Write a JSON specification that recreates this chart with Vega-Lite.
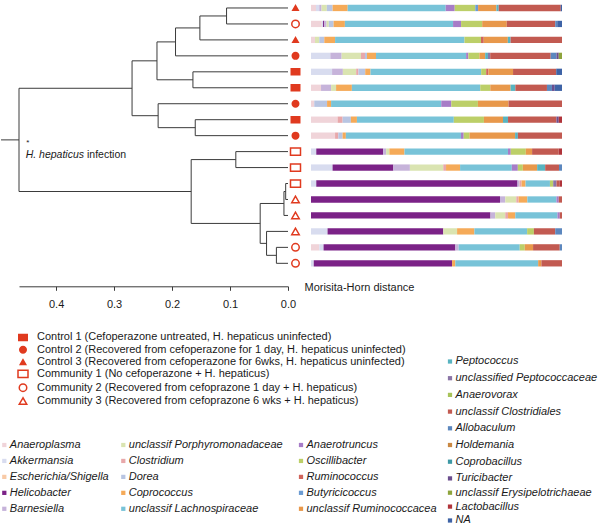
{
  "$schema": "https://vega.github.io/schema/vega-lite/v6.json",
  "padding": 0,
  "background": "white",
  "bounds": "flush",
  "spacing": 5,
  "config": {"view": {"stroke": null}, "font": "Liberation Sans"},
  "datasets": {
    "tree": [
      {"node":"1","h":0,"y":1,"ph":0.106},
      {"node":"2","h":0,"y":2,"ph":0.106},
      {"node":"3","h":0,"y":3,"ph":0.152},
      {"node":"4","h":0,"y":4,"ph":0.194},
      {"node":"5","h":0,"y":5,"ph":0.164},
      {"node":"6","h":0,"y":6,"ph":0.164},
      {"node":"7","h":0,"y":7,"ph":0.224},
      {"node":"8","h":0,"y":8,"ph":0.160},
      {"node":"9","h":0,"y":9,"ph":0.160},
      {"node":"10","h":0,"y":10,"ph":0.090},
      {"node":"11","h":0,"y":11,"ph":0.090},
      {"node":"12","h":0,"y":12,"ph":0.004},
      {"node":"13","h":0,"y":13,"ph":0.004},
      {"node":"14","h":0,"y":14,"ph":0.007},
      {"node":"15","h":0,"y":15,"ph":0.037},
      {"node":"16","h":0,"y":16,"ph":0.020},
      {"node":"17","h":0,"y":17,"ph":0.020},
      {"node":"A","h":0.106,"y":1.5,"ph":0.152,"lo":1,"hi":2},
      {"node":"B","h":0.152,"y":2.25,"ph":0.194,"lo":1.5,"hi":3},
      {"node":"C","h":0.194,"y":3.125,"ph":0.226,"lo":2.25,"hi":4},
      {"node":"D","h":0.164,"y":5.5,"ph":0.226,"lo":5,"hi":6},
      {"node":"E","h":0.226,"y":4.3125,"ph":0.269,"lo":3.125,"hi":5.5},
      {"node":"F","h":0.160,"y":8.5,"ph":0.224,"lo":8,"hi":9},
      {"node":"G","h":0.224,"y":7.75,"ph":0.269,"lo":7,"hi":8.5},
      {"node":"H","h":0.269,"y":6.03125,"ph":0.464,"lo":4.3125,"hi":7.75},
      {"node":"I","h":0.090,"y":10.5,"ph":0.167,"lo":10,"hi":11},
      {"node":"J","h":0.004,"y":12.5,"ph":0.007,"lo":12,"hi":13},
      {"node":"K","h":0.007,"y":13.25,"ph":0.048,"lo":12.5,"hi":14},
      {"node":"L","h":0.020,"y":16.5,"ph":0.037,"lo":16,"hi":17},
      {"node":"M","h":0.037,"y":15.75,"ph":0.048,"lo":15,"hi":16.5},
      {"node":"N","h":0.048,"y":14.5,"ph":0.167,"lo":13.25,"hi":15.75},
      {"node":"O","h":0.167,"y":12.5,"ph":0.464,"lo":10.5,"hi":14.5},
      {"node":"R","h":0.464,"y":9.265625,"ph":0.495,"lo":6.03125,"hi":12.5}
    ],
    "samples": [
      {"leaf":1,"group":"Control 3 (Recovered from cefoperazone for 6wks, H. hepaticus uninfected)"},
      {"leaf":2,"group":"Community 2 (Recovered from cefoprazone 1 day + H. hepaticus)"},
      {"leaf":3,"group":"Control 3 (Recovered from cefoperazone for 6wks, H. hepaticus uninfected)"},
      {"leaf":4,"group":"Control 2 (Recovered from cefoperazone for 1 day, H. hepaticus uninfected)"},
      {"leaf":5,"group":"Control 1 (Cefoperazone untreated, H. hepaticus uninfected)"},
      {"leaf":6,"group":"Control 1 (Cefoperazone untreated, H. hepaticus uninfected)"},
      {"leaf":7,"group":"Control 2 (Recovered from cefoperazone for 1 day, H. hepaticus uninfected)"},
      {"leaf":8,"group":"Control 1 (Cefoperazone untreated, H. hepaticus uninfected)"},
      {"leaf":9,"group":"Control 2 (Recovered from cefoperazone for 1 day, H. hepaticus uninfected)"},
      {"leaf":10,"group":"Community 1 (No cefoperazone + H. hepaticus)"},
      {"leaf":11,"group":"Community 1 (No cefoperazone + H. hepaticus)"},
      {"leaf":12,"group":"Community 1 (No cefoperazone + H. hepaticus)"},
      {"leaf":13,"group":"Community 3 (Recovered from cefoprazone 6 wks + H. hepaticus)"},
      {"leaf":14,"group":"Community 3 (Recovered from cefoprazone 6 wks + H. hepaticus)"},
      {"leaf":15,"group":"Community 3 (Recovered from cefoprazone 6 wks + H. hepaticus)"},
      {"leaf":16,"group":"Community 2 (Recovered from cefoprazone 1 day + H. hepaticus)"},
      {"leaf":17,"group":"Community 2 (Recovered from cefoprazone 1 day + H. hepaticus)"}
    ],
    "abund": [
      {"s":1,"t":"Anaeroplasma","v":2.0},{"s":1,"t":"Akkermansia","v":1.3},{"s":1,"t":"Barnesiella","v":0.9},{"s":1,"t":"unclassif Porphyromonadaceae","v":2.1},{"s":1,"t":"Dorea","v":2.3},{"s":1,"t":"Coprococcus","v":6.0},{"s":1,"t":"unclassif Lachnospiraceae","v":39.0},{"s":1,"t":"Anaerotruncus","v":3.6},{"s":1,"t":"Oscillibacter","v":8.2},{"s":1,"t":"Butyricicoccus","v":1.1},{"s":1,"t":"unclassif Ruminococcacea","v":7.3},{"s":1,"t":"Peptococcus","v":0.9},{"s":1,"t":"unclassif Clostridiales","v":24.7},{"s":1,"t":"NA","v":0.5},
      {"s":2,"t":"Anaeroplasma","v":4.3},{"s":2,"t":"Akkermansia","v":0.5},{"s":2,"t":"Helicobacter","v":0.5},{"s":2,"t":"Barnesiella","v":0.9},{"s":2,"t":"unclassif Porphyromonadaceae","v":0.9},{"s":2,"t":"Dorea","v":1.9},{"s":2,"t":"Coprococcus","v":4.5},{"s":2,"t":"unclassif Lachnospiraceae","v":43.1},{"s":2,"t":"Anaerotruncus","v":3.2},{"s":2,"t":"Oscillibacter","v":8.4},{"s":2,"t":"unclassif Ruminococcacea","v":9.8},{"s":2,"t":"unclassif Clostridiales","v":19.3},{"s":2,"t":"Allobaculum","v":0.8},{"s":2,"t":"NA","v":1.9},
      {"s":3,"t":"Anaeroplasma","v":1.6},{"s":3,"t":"unclassif Porphyromonadaceae","v":1.7},{"s":3,"t":"Dorea","v":2.0},{"s":3,"t":"Coprococcus","v":4.3},{"s":3,"t":"unclassif Lachnospiraceae","v":51.6},{"s":3,"t":"Oscillibacter","v":6.6},{"s":3,"t":"Ruminococcus","v":1.1},{"s":3,"t":"unclassif Ruminococcacea","v":9.6},{"s":3,"t":"Peptococcus","v":1.1},{"s":3,"t":"unclassif Clostridiales","v":20.5},
      {"s":4,"t":"Akkermansia","v":7.7},{"s":4,"t":"Barnesiella","v":4.5},{"s":4,"t":"unclassif Porphyromonadaceae","v":7.7},{"s":4,"t":"Clostridium","v":1.6},{"s":4,"t":"Dorea","v":0.8},{"s":4,"t":"Coprococcus","v":3.6},{"s":4,"t":"unclassif Lachnospiraceae","v":35.9},{"s":4,"t":"Anaerotruncus","v":0.9},{"s":4,"t":"Oscillibacter","v":4.4},{"s":4,"t":"unclassif Ruminococcacea","v":2.3},{"s":4,"t":"Peptococcus","v":1.1},{"s":4,"t":"unclassified Peptococcaceae","v":0.9},{"s":4,"t":"unclassif Clostridiales","v":24.1},{"s":4,"t":"Allobaculum","v":2.3},{"s":4,"t":"Turicibacter","v":0.9},{"s":4,"t":"unclassif Erysipelotrichaeae","v":1.3},
      {"s":5,"t":"Akkermansia","v":8.4},{"s":5,"t":"Barnesiella","v":4.3},{"s":5,"t":"unclassif Porphyromonadaceae","v":5.3},{"s":5,"t":"Clostridium","v":0.9},{"s":5,"t":"Dorea","v":2.7},{"s":5,"t":"Coprococcus","v":2.1},{"s":5,"t":"unclassif Lachnospiraceae","v":44.1},{"s":5,"t":"Oscillibacter","v":2.0},{"s":5,"t":"Ruminococcus","v":0.9},{"s":5,"t":"unclassif Ruminococcacea","v":9.8},{"s":5,"t":"unclassif Clostridiales","v":17.2},{"s":5,"t":"NA","v":2.3},
      {"s":6,"t":"Anaeroplasma","v":4.0},{"s":6,"t":"Barnesiella","v":4.0},{"s":6,"t":"unclassif Porphyromonadaceae","v":2.0},{"s":6,"t":"Coprococcus","v":6.3},{"s":6,"t":"unclassif Lachnospiraceae","v":51.2},{"s":6,"t":"Oscillibacter","v":4.0},{"s":6,"t":"unclassif Ruminococcacea","v":8.1},{"s":6,"t":"Peptococcus","v":1.9},{"s":6,"t":"unclassif Clostridiales","v":12.6},{"s":6,"t":"Allobaculum","v":2.0},{"s":6,"t":"Turicibacter","v":1.1},{"s":6,"t":"NA","v":2.9},
      {"s":7,"t":"Anaeroplasma","v":1.3},{"s":7,"t":"Dorea","v":5.1},{"s":7,"t":"Coprococcus","v":1.6},{"s":7,"t":"unclassif Lachnospiraceae","v":43.9},{"s":7,"t":"Anaerotruncus","v":4.0},{"s":7,"t":"Oscillibacter","v":10.6},{"s":7,"t":"unclassif Ruminococcacea","v":12.2},{"s":7,"t":"unclassif Clostridiales","v":21.3},
      {"s":8,"t":"Anaeroplasma","v":10.6},{"s":8,"t":"Clostridium","v":2.0},{"s":8,"t":"Dorea","v":3.3},{"s":8,"t":"Coprococcus","v":2.4},{"s":8,"t":"unclassif Lachnospiraceae","v":38.6},{"s":8,"t":"Oscillibacter","v":12.0},{"s":8,"t":"unclassif Ruminococcacea","v":7.6},{"s":8,"t":"Peptococcus","v":2.0},{"s":8,"t":"unclassif Clostridiales","v":19.3},{"s":8,"t":"Turicibacter","v":0.9},{"s":8,"t":"Lactobacillus","v":1.3},
      {"s":9,"t":"Anaeroplasma","v":9.6},{"s":9,"t":"Clostridium","v":1.3},{"s":9,"t":"Dorea","v":1.7},{"s":9,"t":"Coprococcus","v":1.3},{"s":9,"t":"unclassif Lachnospiraceae","v":45.9},{"s":9,"t":"Anaerotruncus","v":1.1},{"s":9,"t":"Oscillibacter","v":2.3},{"s":9,"t":"unclassif Ruminococcacea","v":18.2},{"s":9,"t":"Peptococcus","v":1.1},{"s":9,"t":"unclassif Clostridiales","v":17.6},
      {"s":10,"t":"Akkermansia","v":2.1},{"s":10,"t":"Helicobacter","v":26.6},{"s":10,"t":"Barnesiella","v":1.2},{"s":10,"t":"unclassif Porphyromonadaceae","v":1.3},{"s":10,"t":"Coprococcus","v":6.0},{"s":10,"t":"unclassif Lachnospiraceae","v":41.2},{"s":10,"t":"Anaerotruncus","v":1.1},{"s":10,"t":"Oscillibacter","v":6.0},{"s":10,"t":"unclassif Ruminococcacea","v":2.5},{"s":10,"t":"unclassif Clostridiales","v":10.6},{"s":10,"t":"Lactobacillus","v":1.3},
      {"s":11,"t":"Akkermansia","v":8.6},{"s":11,"t":"Helicobacter","v":24.2},{"s":11,"t":"Barnesiella","v":6.6},{"s":11,"t":"unclassif Porphyromonadaceae","v":13.3},{"s":11,"t":"Clostridium","v":1.1},{"s":11,"t":"Coprococcus","v":5.6},{"s":11,"t":"unclassif Lachnospiraceae","v":20.6},{"s":11,"t":"Anaerotruncus","v":2.4},{"s":11,"t":"Oscillibacter","v":2.0},{"s":11,"t":"unclassif Ruminococcacea","v":5.7},{"s":11,"t":"Peptococcus","v":3.2},{"s":11,"t":"unclassif Clostridiales","v":5.5},{"s":11,"t":"Allobaculum","v":1.2},
      {"s":12,"t":"Akkermansia","v":2.1},{"s":12,"t":"Helicobacter","v":80.1},{"s":12,"t":"Barnesiella","v":0.8},{"s":12,"t":"Clostridium","v":0.8},{"s":12,"t":"Coprococcus","v":1.6},{"s":12,"t":"unclassif Lachnospiraceae","v":9.7},{"s":12,"t":"Oscillibacter","v":1.3},{"s":12,"t":"unclassified Peptococcaceae","v":1.3},{"s":12,"t":"unclassif Clostridiales","v":1.3},{"s":12,"t":"Lactobacillus","v":0.9},
      {"s":13,"t":"Helicobacter","v":75.3},{"s":13,"t":"Barnesiella","v":2.1},{"s":13,"t":"unclassif Porphyromonadaceae","v":4.4},{"s":13,"t":"Clostridium","v":0.9},{"s":13,"t":"Coprococcus","v":3.5},{"s":13,"t":"unclassif Lachnospiraceae","v":11.6},{"s":13,"t":"Anaerotruncus","v":0.9},{"s":13,"t":"unclassif Clostridiales","v":1.3},
      {"s":14,"t":"Helicobacter","v":71.5},{"s":14,"t":"Barnesiella","v":1.9},{"s":14,"t":"unclassif Porphyromonadaceae","v":4.0},{"s":14,"t":"Clostridium","v":1.1},{"s":14,"t":"Coprococcus","v":2.9},{"s":14,"t":"unclassif Lachnospiraceae","v":16.8},{"s":14,"t":"Anaerotruncus","v":0.9},{"s":14,"t":"unclassif Clostridiales","v":0.9},
      {"s":15,"t":"Akkermansia","v":6.6},{"s":15,"t":"Helicobacter","v":46.1},{"s":15,"t":"unclassif Porphyromonadaceae","v":5.5},{"s":15,"t":"Coprococcus","v":6.9},{"s":15,"t":"unclassif Lachnospiraceae","v":21.0},{"s":15,"t":"Oscillibacter","v":2.7},{"s":15,"t":"unclassif Clostridiales","v":8.5},{"s":15,"t":"Allobaculum","v":2.7},
      {"s":16,"t":"Anaeroplasma","v":3.3},{"s":16,"t":"Akkermansia","v":1.7},{"s":16,"t":"Helicobacter","v":52.4},{"s":16,"t":"Barnesiella","v":1.3},{"s":16,"t":"unclassif Lachnospiraceae","v":24.3},{"s":16,"t":"Oscillibacter","v":2.0},{"s":16,"t":"unclassif Ruminococcacea","v":3.3},{"s":16,"t":"unclassif Clostridiales","v":10.6},{"s":16,"t":"Allobaculum","v":0.9},
      {"s":17,"t":"Akkermansia","v":1.1},{"s":17,"t":"Helicobacter","v":55.1},{"s":17,"t":"Coprococcus","v":1.3},{"s":17,"t":"unclassif Lachnospiraceae","v":33.0},{"s":17,"t":"unclassif Ruminococcacea","v":1.3},{"s":17,"t":"unclassif Clostridiales","v":8.2}
    ]
  },
  "hconcat": [
    {
      "width": 269,
      "height": 271.3,
      "data": {"name": "tree"},
      "layer": [
        {
          "mark": {"type": "rule", "color": "#3a3a3a", "strokeWidth": 1},
          "encoding": {
            "x": {"field": "h", "type": "quantitative",
              "scale": {"domain": [0.464, 0], "nice": false, "zero": false},
              "axis": {"orient": "bottom", "offset": 15, "values": [0.4, 0.3, 0.2, 0.1, 0], "format": ".1f", "grid": false,
                "domainColor": "#3a3a3a", "tickColor": "#3a3a3a", "tickSize": 4, "labelFontSize": 11, "labelColor": "#1a1a1a",
                "labelPadding": 8, "labelDx": 3, "labelFlush": false,
                "title": "Morisita-Horn distance", "titleX": 285, "titleY": 1, "titleAlign": "left", "titleAnchor": "start",
                "titleBaseline": "middle", "titleFontWeight": "normal", "titleFontSize": 11, "titleColor": "#1a1a1a"}},
            "x2": {"field": "ph"},
            "y": {"field": "y", "type": "quantitative", "scale": {"domain": [0.5, 17.5], "reverse": true, "nice": false, "zero": false}, "axis": null}
          }
        },
        {
          "transform": [{"filter": "isValid(datum.lo)"}],
          "mark": {"type": "rule", "color": "#3a3a3a", "strokeWidth": 1},
          "encoding": {
            "x": {"field": "h", "type": "quantitative"},
            "y": {"field": "lo", "type": "quantitative"},
            "y2": {"field": "hi"}
          }
        },
        {
          "transform": [{"filter": "datum.node == 'R'"}],
          "mark": {"type": "text", "text": "*", "fontSize": 8, "align": "center", "baseline": "middle", "dx": 8.7, "dy": 3, "color": "#1a1a1a"},
          "encoding": {"x": {"field": "h", "type": "quantitative"}, "y": {"field": "y", "type": "quantitative"}}
        },
        {
          "transform": [{"filter": "datum.node == 'R'"}],
          "mark": {"type": "text", "text": "H. hepaticus", "fontStyle": "italic", "fontSize": 10.5, "align": "left", "baseline": "middle", "dx": 6.7, "dy": 15, "color": "#1a1a1a"},
          "encoding": {"x": {"field": "h", "type": "quantitative"}, "y": {"field": "y", "type": "quantitative"}}
        },
        {
          "transform": [{"filter": "datum.node == 'R'"}],
          "mark": {"type": "text", "text": "infection", "fontSize": 10.5, "align": "left", "baseline": "middle", "dx": 68, "dy": 15, "color": "#1a1a1a"},
          "encoding": {"x": {"field": "h", "type": "quantitative"}, "y": {"field": "y", "type": "quantitative"}}
        }
      ]
    },
    {
      "width": 13,
      "height": 271.3,
      "data": {"name": "samples"},
      "mark": {"type": "point", "filled": true, "opacity": 1, "stroke": "#e03a1f", "strokeWidth": 1.5, "xOffset": -4},
      "encoding": {
        "y": {"field": "leaf", "type": "quantitative", "scale": {"domain": [0.5, 17.5], "reverse": true, "nice": false, "zero": false}, "axis": null},
        "shape": {"field": "group", "type": "nominal",
          "scale": {"domain": [
            "Control 1 (Cefoperazone untreated, H. hepaticus uninfected)",
            "Control 2 (Recovered from cefoperazone for 1 day, H. hepaticus uninfected)",
            "Control 3 (Recovered from cefoperazone for 6wks, H. hepaticus uninfected)",
            "Community 1 (No cefoperazone + H. hepaticus)",
            "Community 2 (Recovered from cefoprazone 1 day + H. hepaticus)",
            "Community 3 (Recovered from cefoprazone 6 wks + H. hepaticus)"],
            "range": ["M-1,-0.72H1V0.72H-1Z", "circle", "triangle-up", "M-1,-0.72H1V0.72H-1Z", "circle", "triangle-up"]},
          "legend": {"orient": "none", "legendX": -2, "legendY": 332, "title": null, "labelFontSize": 11, "labelColor": "#1a1a1a",
            "labelOffset": 8, "rowPadding": -0.7, "padding": 0, "labelLimit": 0,
            "encode": {"symbols": {"update": {"stroke": {"value": "#e03a1f"}, "strokeWidth": {"value": 1.5}}}}}},
        "fill": {"field": "group", "type": "nominal",
          "scale": {"domain": [
            "Control 1 (Cefoperazone untreated, H. hepaticus uninfected)",
            "Control 2 (Recovered from cefoperazone for 1 day, H. hepaticus uninfected)",
            "Control 3 (Recovered from cefoperazone for 6wks, H. hepaticus uninfected)",
            "Community 1 (No cefoperazone + H. hepaticus)",
            "Community 2 (Recovered from cefoprazone 1 day + H. hepaticus)",
            "Community 3 (Recovered from cefoprazone 6 wks + H. hepaticus)"],
            "range": ["#e03a1f", "#e03a1f", "#e03a1f", "transparent", "transparent", "transparent"]},
          "legend": {"orient": "none", "legendX": -2, "legendY": 332, "title": null, "labelFontSize": 11, "labelColor": "#1a1a1a",
            "labelOffset": 8, "rowPadding": -0.7, "padding": 0, "labelLimit": 0,
            "encode": {"symbols": {"update": {"stroke": {"value": "#e03a1f"}, "strokeWidth": {"value": 1.5}}}}}},
        "size": {"field": "group", "type": "nominal",
          "scale": {"type": "ordinal", "domain": [
            "Control 1 (Cefoperazone untreated, H. hepaticus uninfected)",
            "Control 2 (Recovered from cefoperazone for 1 day, H. hepaticus uninfected)",
            "Control 3 (Recovered from cefoperazone for 6wks, H. hepaticus uninfected)",
            "Community 1 (No cefoperazone + H. hepaticus)",
            "Community 2 (Recovered from cefoprazone 1 day + H. hepaticus)",
            "Community 3 (Recovered from cefoprazone 6 wks + H. hepaticus)"],
            "range": [72, 42, 30, 100, 56, 56]},
          "legend": {"orient": "none", "legendX": -2, "legendY": 332, "title": null, "labelFontSize": 11, "labelColor": "#1a1a1a",
            "labelOffset": 8, "rowPadding": -0.7, "padding": 0, "labelLimit": 0,
            "encode": {"symbols": {"update": {"stroke": {"value": "#e03a1f"}, "strokeWidth": {"value": 1.5}}}}}}
      }
    },
    {
      "width": 251,
      "height": 271.3,
      "data": {"name": "abund"},
      "transform": [{"stack": "v", "groupby": ["s"], "as": ["x0", "x1"], "offset": "normalize"}],
      "encoding": {
        "y": {"field": "s", "type": "ordinal", "scale": {"domain": [1,2,3,4,5,6,7,8,9,10,11,12,13,14,15,16,17], "paddingInner": 0.605, "paddingOuter": 0.3025}, "axis": null},
        "x": {"field": "x0", "type": "quantitative", "scale": {"domain": [0, 1], "nice": false, "zero": false}, "axis": null},
        "x2": {"field": "x1"}
      },
      "layer": [
        {
          "transform": [{"filter": {"field": "t", "oneOf": ["Anaeroplasma","Akkermansia","Escherichia/Shigella","Helicobacter","Barnesiella"]}}],
          "mark": {"type": "bar"},
          "encoding": {"color": {"field": "t", "type": "nominal",
            "scale": {"domain": ["Anaeroplasma","Akkermansia","Escherichia/Shigella","Helicobacter","Barnesiella"], "range": ["#f0d4d9","#d8dcef","#f8caa6","#7b2287","#c6b3da"]},
            "legend": {"orient": "none", "legendX": -310, "legendY": 439.5, "title": null, "symbolType": "square", "symbolSize": 18, "symbolStrokeWidth": 0,
              "symbolOffset": -2.2, "labelFontSize": 11, "labelFontStyle": "italic", "labelColor": "#1a1a1a", "labelOffset": 0, "rowPadding": 3.95, "padding": 0, "labelLimit": 0}}}
        },
        {
          "transform": [{"filter": {"field": "t", "oneOf": ["unclassif Porphyromonadaceae","Clostridium","Dorea","Coprococcus","unclassif Lachnospiraceae"]}}],
          "mark": {"type": "bar"},
          "encoding": {"color": {"field": "t", "type": "nominal",
            "scale": {"domain": ["unclassif Porphyromonadaceae","Clostridium","Dorea","Coprococcus","unclassif Lachnospiraceae"], "range": ["#dae4b1","#e8a8aa","#b8c5e2","#f5aa58","#78c3d8"]},
            "legend": {"orient": "none", "legendX": -191, "legendY": 439.5, "title": null, "symbolType": "square", "symbolSize": 18, "symbolStrokeWidth": 0,
              "symbolOffset": -2.2, "labelFontSize": 11, "labelFontStyle": "italic", "labelColor": "#1a1a1a", "labelOffset": 0, "rowPadding": 3.95, "padding": 0, "labelLimit": 0}}}
        },
        {
          "transform": [{"filter": {"field": "t", "oneOf": ["Anaerotruncus","Oscillibacter","Ruminococcus","Butyricicoccus","unclassif Ruminococcacea"]}}],
          "mark": {"type": "bar"},
          "encoding": {"color": {"field": "t", "type": "nominal",
            "scale": {"domain": ["Anaerotruncus","Oscillibacter","Ruminococcus","Butyricicoccus","unclassif Ruminococcacea"], "range": ["#a77cc7","#bccf68","#d0655b","#6b9bd2","#e8984b"]},
            "legend": {"orient": "none", "legendX": -13.3, "legendY": 439.5, "title": null, "symbolType": "square", "symbolSize": 18, "symbolStrokeWidth": 0,
              "symbolOffset": -2.2, "labelFontSize": 11, "labelFontStyle": "italic", "labelColor": "#1a1a1a", "labelOffset": 0, "rowPadding": 3.95, "padding": 0, "labelLimit": 0}}}
        },
        {
          "transform": [{"filter": {"field": "t", "oneOf": ["Peptococcus","unclassified Peptococcaceae","Anaerovorax","unclassif Clostridiales","Allobaculum","Holdemania","Coprobacillus","Turicibacter"]}}],
          "mark": {"type": "bar"},
          "encoding": {"color": {"field": "t", "type": "nominal",
            "scale": {"domain": ["Peptococcus","unclassified Peptococcaceae","Anaerovorax","unclassif Clostridiales","Allobaculum","Holdemania","Coprobacillus","Turicibacter"], "range": ["#58b3c0","#8b75a7","#a8c35a","#c25a51","#5c87be","#c98843","#3d98a5","#6b4d8e"]},
            "legend": {"orient": "none", "legendX": 135.7, "legendY": 356, "title": null, "symbolType": "square", "symbolSize": 18, "symbolStrokeWidth": 0,
              "symbolOffset": -2.2, "labelFontSize": 11, "labelFontStyle": "italic", "labelColor": "#1a1a1a", "labelOffset": 0, "rowPadding": 4.7, "padding": 0, "labelLimit": 0}}}
        },
        {
          "transform": [{"filter": {"field": "t", "oneOf": ["unclassif Erysipelotrichaeae","Lactobacillus","NA"]}}],
          "mark": {"type": "bar"},
          "encoding": {"color": {"field": "t", "type": "nominal",
            "scale": {"domain": ["unclassif Erysipelotrichaeae","Lactobacillus","NA"], "range": ["#8ea43c","#b0343a","#3e63a6"]},
            "legend": {"orient": "none", "legendX": 135.7, "legendY": 487.2, "title": null, "symbolType": "square", "symbolSize": 18, "symbolStrokeWidth": 0,
              "symbolOffset": -2.2, "labelFontSize": 11, "labelFontStyle": "italic", "labelColor": "#1a1a1a", "labelOffset": 0, "rowPadding": 1.9, "padding": 0, "labelLimit": 0}}}
        }
      ],
      "resolve": {"scale": {"color": "independent"}, "legend": {"color": "independent"}}
    }
  ]
}
